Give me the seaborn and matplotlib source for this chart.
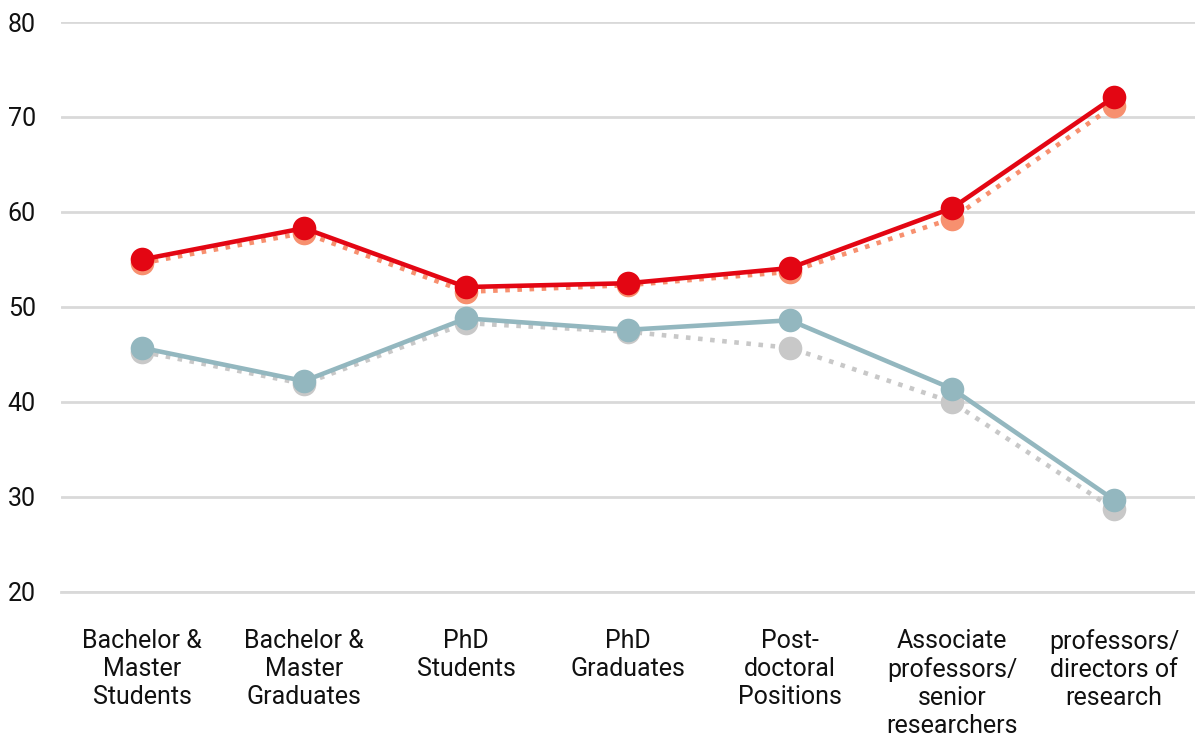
import matplotlib
matplotlib.use("Agg")
import matplotlib.pyplot as plt
import seaborn as sns
import pandas as pd

categories = [
    "Bachelor &\nMaster\nStudents",
    "Bachelor &\nMaster\nGraduates",
    "PhD\nStudents",
    "PhD\nGraduates",
    "Post-\ndoctoral\nPositions",
    "Associate\nprofessors/\nsenior\nresearchers",
    "professors/\ndirectors of\nresearch",
]
men_current = [55.0, 58.3, 52.1, 52.5, 54.1, 60.4, 72.1]
men_previous = [54.6, 57.8, 51.6, 52.3, 53.7, 59.3, 71.2]
women_current = [45.7, 42.2, 48.8, 47.6, 48.6, 41.4, 29.7]
women_previous = [45.3, 41.9, 48.3, 47.4, 45.7, 40.0, 28.7]
yticks = [20, 30, 40, 50, 60, 70, 80]

sns.set_style("white")
plt.rcParams["font.family"] = ["Roboto", "DejaVu Sans"]

fig = plt.figure(figsize=(11.95, 7.36), dpi=100)
ax = fig.add_axes([0.051, 0.1957, 0.949, 0.7744])

pos = list(range(len(categories)))
df = pd.DataFrame({
    "pos": pos,
    "men_cur": men_current,
    "men_prev": men_previous,
    "wom_cur": women_current,
    "wom_prev": women_previous,
})

ax.yaxis.grid(True, color="#D9D9D9", linewidth=2)
ax.set_axisbelow(True)

lw = 3.3
ms = 17
sns.lineplot(data=df, x="pos", y="wom_prev", ax=ax, color="#C8C8C8", linewidth=lw,
             linestyle=":", marker="o", markersize=ms, markeredgewidth=0, zorder=2)
sns.lineplot(data=df, x="pos", y="men_prev", ax=ax, color="#F7906F", linewidth=lw,
             linestyle=":", marker="o", markersize=ms, markeredgewidth=0, zorder=2)
sns.lineplot(data=df, x="pos", y="wom_cur", ax=ax, color="#93B7BF", linewidth=lw,
             marker="o", markersize=ms, markeredgewidth=0, zorder=3)
sns.lineplot(data=df, x="pos", y="men_cur", ax=ax, color="#E30613", linewidth=lw,
             marker="o", markersize=ms, markeredgewidth=0, zorder=3)

ax.set_xlim(-0.5, len(categories) - 0.5)
ax.set_ylim(20, 80)
ax.set_yticks(yticks)
ax.set_yticklabels([str(v) for v in yticks], fontsize=18, color="#111111")
ax.tick_params(axis="y", length=0, pad=18)
ax.set_xticks(pos)
ax.set_xticklabels(categories, fontsize=18, linespacing=1.2, va="top", color="#111111")
ax.tick_params(axis="x", direction="in", length=12, width=1.5, color="#E2E2E2", pad=27)
ax.set_xlabel("")
ax.set_ylabel("")

for s in ["top", "right", "left"]:
    ax.spines[s].set_visible(False)
ax.spines["bottom"].set_color("#D9D9D9")
ax.spines["bottom"].set_linewidth(2)

fig.savefig("out.png", dpi=100)
